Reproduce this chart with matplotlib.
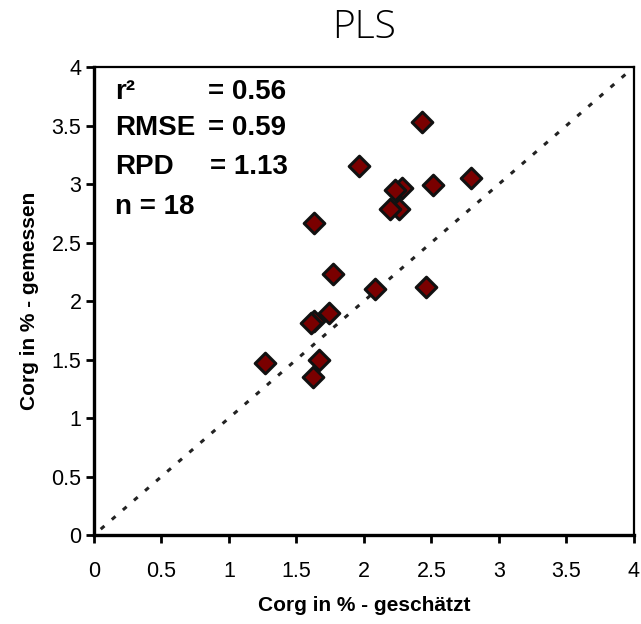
import numpy as np
import matplotlib
matplotlib.use("Agg")
import matplotlib.pyplot as plt

corg_est = [2.43, 1.96, 2.28, 2.23, 2.51, 2.79, 2.26, 2.19, 1.63, 1.77,
            2.08, 2.46, 1.74, 1.63, 1.61, 1.27, 1.67, 1.62]
corg_meas = [3.53, 3.15, 2.97, 2.95, 2.99, 3.05, 2.79, 2.79, 2.67, 2.23,
             2.10, 2.12, 1.90, 1.83, 1.81, 1.47, 1.50, 1.35]
stat_names = ["r²", "RMSE", "RPD"]
stat_values = ["0.56", "0.59", "1.13"]
n_samples = 18
ticks = [0, 0.5, 1, 1.5, 2, 2.5, 3, 3.5, 4]
tick_labels = ["0", "0.5", "1", "1.5", "2", "2.5", "3", "3.5", "4"]

plt.rcParams["font.family"] = ["Liberation Sans", "DejaVu Sans"]

fig = plt.figure(figsize=(6.41, 6.24), dpi=100)
ax = fig.add_axes([0.1466, 0.1426, 0.8424, 0.75])

# 1:1 line
ax.plot([0.05, 4], [0.05, 4], color="#222222", lw=2.2,
        linestyle=(0, (1.6, 3.2)), zorder=2)

ax.scatter(corg_est, corg_meas, marker="D", s=110, color="#7a0000",
           edgecolors="#111111", linewidths=2.2, zorder=4)

ax.set_xlim(0, 4)
ax.set_ylim(0, 4)
ax.set_xticks(ticks)
ax.set_xticklabels(tick_labels)
ax.set_yticks(ticks)
ax.set_yticklabels(tick_labels)
ax.tick_params(direction="out", length=6, width=2, labelsize=15.5,
               colors="black")
ax.tick_params(axis="x", pad=13)
ax.tick_params(axis="y", pad=3)
for side in ("left", "bottom"):
    ax.spines[side].set_linewidth(2.4)
for side in ("top", "right"):
    ax.spines[side].set_linewidth(1.6)

ax.set_xlabel("Corg in % - geschätzt", fontsize=15, fontweight="bold",
              labelpad=10)
ax.set_ylabel("Corg in % - gemessen", fontsize=15, fontweight="bold",
              labelpad=9)
ax.set_title("PLS", fontsize=28, family="Open Sans", fontweight="light",
             pad=21)

# statistics text
rows_y = [3.786, 3.479, 3.145, 2.803]
eq_x = [0.845, 0.845, 0.86]
for name, val, y, ex in zip(stat_names, stat_values, rows_y, eq_x):
    ax.text(0.156, y, name, fontsize=20, fontweight="bold",
            va="center", ha="left")
    ax.text(ex, y, f"= {val}", fontsize=20, fontweight="bold",
            va="center", ha="left")
ax.text(0.156, rows_y[3], f"n = {n_samples}", fontsize=20, fontweight="bold",
        va="center", ha="left")

fig.savefig("out.png", dpi=100)
